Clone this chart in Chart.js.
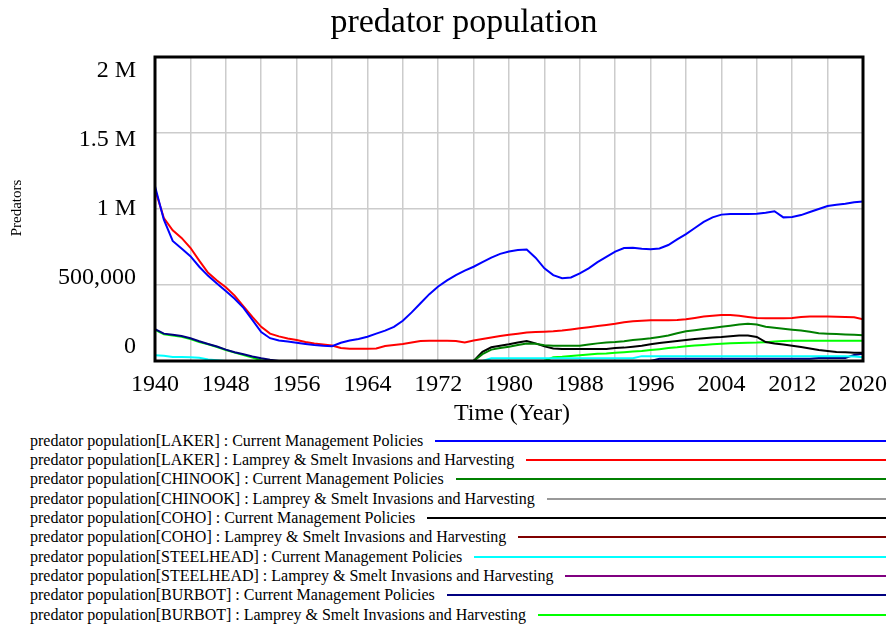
<!DOCTYPE html>
<html>
<head>
<meta charset="utf-8">
<script src="https://cdn.jsdelivr.net/npm/chart.js@4/dist/chart.umd.min.js"></script>
<style>
  html, body { margin:0; padding:0; background:#fff; }
  #wrap { position:relative; width:896px; height:627px; overflow:hidden; font-family:"Liberation Serif","Times New Roman",serif; color:#000; }
  #c { position:absolute; left:0; top:0; }
  .title { position:absolute; left:0; width:928px; top:0; text-align:center; font-size:34px; line-height:42px; }
  .xtitle { position:absolute; left:412px; width:200px; top:397px; text-align:center; font-size:24px; line-height:30px; }
  .ytitle { position:absolute; left:-34px; top:199px; width:100px; text-align:center; font-size:15px; line-height:18px; transform:rotate(-90deg); }
  #legend { position:absolute; left:30px; top:431px; width:856px; }
  .row { display:flex; align-items:center; height:19.33px; font-size:16px; white-space:nowrap; }
  .row .ln { flex:1; height:2px; margin-left:12px; }
</style>
</head>
<body>
<div id="wrap">
  <canvas id="c" width="896" height="430"></canvas>
  <div class="title">predator population</div>
  <div class="xtitle">Time (Year)</div>
  <div class="ytitle">Predators</div>
  <div id="legend"></div>
</div>
<script>
// ---- data ----
const years = [];
for (let y = 1940; y <= 2020; y++) years.push(y);

const yTickLabels = ["0", "500,000", "1 M", "1.5 M", "2 M"];
const yTickValues = [0, 500000, 1000000, 1500000, 2000000];

const seriesNames = [
  "predator population[LAKER] : Current Management Policies",
  "predator population[LAKER] : Lamprey & Smelt Invasions and Harvesting",
  "predator population[CHINOOK] : Current Management Policies",
  "predator population[CHINOOK] : Lamprey & Smelt Invasions and Harvesting",
  "predator population[COHO] : Current Management Policies",
  "predator population[COHO] : Lamprey & Smelt Invasions and Harvesting",
  "predator population[STEELHEAD] : Current Management Policies",
  "predator population[STEELHEAD] : Lamprey & Smelt Invasions and Harvesting",
  "predator population[BURBOT] : Current Management Policies",
  "predator population[BURBOT] : Lamprey & Smelt Invasions and Harvesting"
];
const seriesColors = ["#0000ff","#ff0000","#008000","#999999","#000000","#800000","#00ffff","#800080","#000080","#00ff00"];

// 1940..2020, one value per year
const lakerCurrent = [
 1150000, 930000, 790000, 740000, 690000, 620000, 560000, 510000, 460000, 410000,
 350000, 270000, 190000, 150000, 135000, 128000, 120000, 112000, 105000, 100000,
 97000, 120000, 135000, 145000, 160000, 180000, 200000, 225000, 265000, 320000,
 380000, 440000, 490000, 530000, 565000, 595000, 620000, 650000, 680000, 705000,
 720000, 730000, 733000, 680000, 610000, 565000, 545000, 550000, 577000, 610000,
 650000, 685000, 720000, 743000, 745000, 738000, 735000, 740000, 763000, 800000,
 835000, 875000, 915000, 945000, 963000, 967000, 967000, 967000, 968000, 975000,
 985000, 945000, 948000, 960000, 980000, 1000000, 1020000, 1028000, 1035000, 1045000,
 1050000];
const lakerLamprey = [
 1130000, 940000, 860000, 810000, 745000, 660000, 580000, 530000, 485000, 430000,
 360000, 290000, 225000, 180000, 162000, 148000, 138000, 125000, 115000, 108000,
 102000, 85000, 80000, 80000, 80000, 82000, 98000, 105000, 112000, 122000,
 132000, 133000, 133000, 133000, 132000, 122000, 135000, 145000, 155000, 165000,
 172000, 180000, 187000, 190000, 192000, 195000, 200000, 207000, 215000, 222000,
 230000, 237000, 245000, 255000, 262000, 265000, 268000, 268000, 268000, 270000,
 275000, 283000, 292000, 298000, 303000, 303000, 298000, 290000, 283000, 282000,
 282000, 282000, 283000, 290000, 292000, 292000, 292000, 291000, 290000, 288000,
 275000];
const chinookCurrent = [
 0,0,0,0,0,0,0,0,0,0,
 0,0,0,0,0,0,0,0,0,0,
 0,0,0,0,0,0,0,0,0,0,
 0,0,0,0,0,0,0,45000,75000,85000,
 94000, 105000, 115000, 113000, 103000, 101000, 101000, 101000, 101000, 108000,
 116000, 122000, 125000, 130000, 138000, 143000, 149000, 158000, 168000, 182000,
 195000, 203000, 210000, 217000, 225000, 232000, 240000, 245000, 240000, 225000,
 218000, 212000, 206000, 200000, 192000, 183000, 180000, 177000, 175000, 172000,
 170000];
const chinookLamprey = years.map(() => 0);
const cohoCurrent = [
 0,0,0,0,0,0,0,0,0,0,
 0,0,0,0,0,0,0,0,0,0,
 0,0,0,0,0,0,0,0,0,0,
 0,0,0,0,0,0,0,60000,90000,100000,
 110000, 122000, 132000, 116000, 96000, 82000, 79000, 79000, 79000, 79000,
 79000, 79000, 86000, 88000, 94000, 100000, 110000, 118000, 125000, 132000,
 138000, 144000, 150000, 155000, 158000, 163000, 167000, 167000, 158000, 125000,
 115000, 108000, 100000, 92000, 82000, 73000, 66000, 60000, 57000, 55000,
 54000];
const cohoLamprey = years.map(() => 0);
const steelheadCurrent = [
 38000, 35000, 27000, 26000, 25000, 22000, 10000, 5000, 0, 0,
 0,0,0,0,0,0,0,0,0,0,
 0,0,0,0,0,0,0,0,0,0,
 0,0,0,0,0,0,0,0,18000,18000,
 18000, 18000, 18000, 18000, 18000, 18000, 18000, 18000, 18000, 18000,
 18000, 18000, 18000, 18000, 18000, 32000, 32000, 32000, 32000, 32000,
 32000, 32000, 32000, 32000, 32000, 32000, 32000, 32000, 32000, 32000,
 32000, 32000, 32000, 32000, 32000, 32000, 32000, 32000, 32000, 30000,
 25000];
const steelheadLamprey = years.map(() => 0);
const burbotCurrent = [
 210000, 180000, 172000, 165000, 150000, 130000, 112000, 95000, 75000, 58000,
 45000, 30000, 18000, 8000, 0, 0, 0, 0, 0, 0,
 0,0,0,0,0,0,0,0,0,0,
 0,0,0,0,0,0,0,0,0,0,
 0,0,0,0,0,0,0,0,0,0,
 0,0,0,0,0,0,0,15000,15000,15000,
 15000, 15000, 15000, 15000, 15000, 15000, 15000, 15000, 15000, 15000,
 15000, 15000, 15000, 15000, 15000, 20000, 20000, 20000, 20000, 40000,
 48000];
const burbotLamprey = [
 205000, 175000, 168000, 160000, 145000, 125000, 110000, 92000, 72000, 55000,
 40000, 22000, 5000, 0, 0, 0, 0, 0, 0, 0,
 0,0,0,0,0,0,0,0,0,0,
 0,0,0,0,0,0,0,0,0,0,
 0,0,0,0,0,25000,28000,33000,38000,43000,
 47000, 50000, 55000, 58000, 62000, 66000, 72000, 78000, 85000, 90000,
 97000, 102000, 106000, 110000, 114000, 117000, 119000, 120000, 121000, 124000,
 128000, 132000, 133000, 133000, 134000, 134000, 134000, 134000, 134000, 134000,
 134000];

const seriesValues = [lakerCurrent, lakerLamprey, chinookCurrent, chinookLamprey, cohoCurrent,
  cohoLamprey, steelheadCurrent, steelheadLamprey, burbotCurrent, burbotLamprey];

// ---- chart ----
const FONT = '"Liberation Serif","Times New Roman",serif';

const datasets = seriesNames.map((name, i) => ({
  label: name,
  data: years.map((yr, k) => ({ x: yr, y: seriesValues[i][k] })),
  borderColor: seriesColors[i],
  backgroundColor: seriesColors[i],
  borderWidth: 2,
  pointRadius: 0,
  tension: 0,
  fill: false
}));

const framePlugin = {
  id: 'frame',
  afterDraw(chart) {
    const { ctx, chartArea: a, scales } = chart;
    ctx.save();
    ctx.strokeStyle = '#000';
    ctx.lineWidth = 3;
    ctx.strokeRect(a.left, a.top, a.right - a.left, a.bottom - a.top);
    // y tick labels, spread evenly inside the frame
    ctx.fillStyle = '#000';
    ctx.font = '24px ' + FONT;
    ctx.textAlign = 'right';
    ctx.textBaseline = 'middle';
    const h = a.bottom - a.top;
    yTickValues.forEach((v, i) => {
      const p = scales.y.getPixelForValue(v);
      const y = a.top + 14 + (p - a.top) * (h - 28) / h;
      ctx.fillText(yTickLabels[i], 136, y);
    });
    ctx.restore();
  }
};

new Chart(document.getElementById('c'), {
  type: 'line',
  data: { datasets },
  options: {
    responsive: false,
    animation: false,
    layout: { padding: { left: 0, right: 26, top: 57, bottom: 0 } },
    plugins: { legend: { display: false }, title: { display: false }, tooltip: { enabled: false } },
    scales: {
      x: {
        type: 'linear',
        min: 1940, max: 2020,
        grid: { color: '#cccccc', lineWidth: 1.5, drawTicks: false },
        border: { display: false },
        ticks: {
          stepSize: 4, autoSkip: false, maxRotation: 0, padding: 9,
          color: '#000', font: { family: FONT, size: 24 },
          callback: v => ((v - 1940) % 8 === 0 ? String(v) : '')
        },
        afterFit: s => { s.height = 69; }
      },
      y: {
        min: 0, max: 2000000,
        grid: { color: '#cccccc', lineWidth: 1.5, drawTicks: false },
        border: { display: false },
        ticks: { stepSize: 500000, display: false },
        afterFit: s => { s.width = 155; }
      }
    }
  },
  plugins: [framePlugin]
});

// ---- legend ----
const leg = document.getElementById('legend');
seriesNames.forEach((name, i) => {
  const row = document.createElement('div');
  row.className = 'row';
  const t = document.createElement('span');
  t.textContent = name;
  const l = document.createElement('div');
  l.className = 'ln';
  l.style.background = seriesColors[i];
  row.appendChild(t);
  row.appendChild(l);
  leg.appendChild(row);
});
</script>
</body>
</html>
